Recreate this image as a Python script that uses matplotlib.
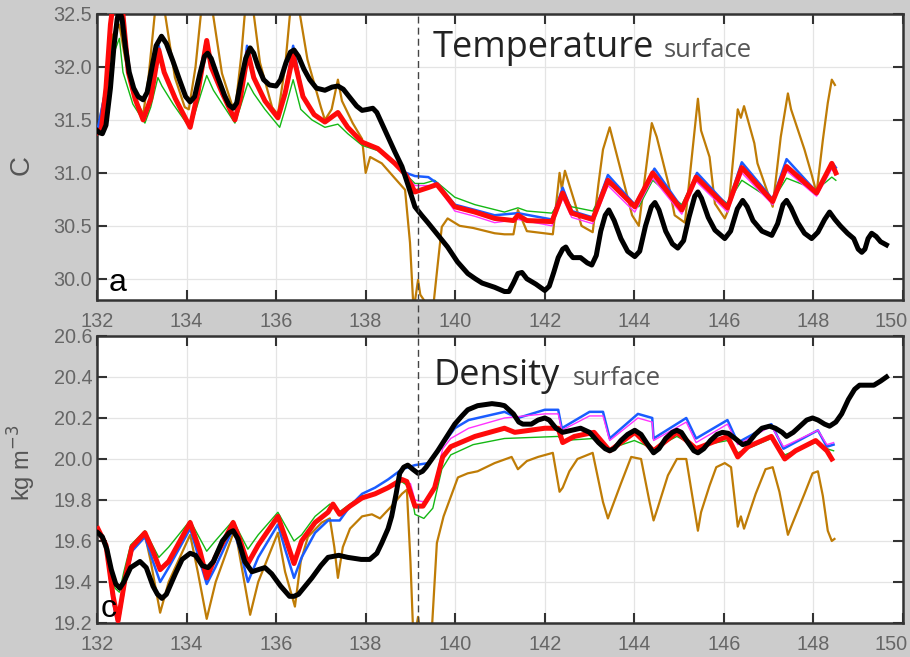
import numpy as np
import matplotlib.pyplot as plt
import matplotlib.transforms as mtransforms

# ---- temperature (top panel) ----
t_black_x = [132.0, 132.05, 132.12, 132.2, 132.3, 132.38, 132.45, 132.5, 132.56, 132.63, 132.72, 132.82, 132.92, 133.03,
             133.12, 133.22, 133.32, 133.44, 133.55, 133.7, 133.85, 133.98, 134.08, 134.18, 134.3, 134.4, 134.47, 134.55,
             134.7, 134.85, 134.95, 135.04, 135.12, 135.22, 135.32, 135.42, 135.5, 135.6, 135.72, 135.85, 136.0, 136.1,
             136.22, 136.32, 136.4, 136.5, 136.62, 136.75, 136.9, 137.09, 137.25, 137.38, 137.5, 137.65, 137.8, 137.92,
             138.05, 138.16, 138.25, 138.38, 138.5, 138.65, 138.81, 138.95, 139.1, 139.25, 139.39, 139.6, 139.83, 140.05,
             140.28, 140.45, 140.6, 140.88, 141.1, 141.2, 141.3, 141.4, 141.49, 141.6, 141.8, 142.0, 142.1, 142.2,
             142.3, 142.4, 142.47, 142.55, 142.63, 142.8, 142.95, 143.05, 143.15, 143.25, 143.35, 143.43, 143.55, 143.7,
             143.85, 144.01, 144.12, 144.25, 144.38, 144.46, 144.55, 144.7, 144.85, 144.97, 145.1, 145.22, 145.35, 145.42,
             145.5, 145.65, 145.8, 146.02, 146.15, 146.3, 146.42, 146.52, 146.65, 146.85, 147.07, 147.2, 147.32, 147.4,
             147.5, 147.65, 147.8, 147.96, 148.1, 148.25, 148.36, 148.48, 148.6, 148.76, 148.9, 149.0, 149.08, 149.15,
             149.22, 149.3, 149.4, 149.5, 149.63]
t_black_y = [31.40, 31.38, 31.37, 31.45, 31.8, 32.2, 32.45, 32.55, 32.45, 32.2, 31.95, 31.8, 31.72, 31.69,
             31.76, 31.98, 32.2, 32.29, 32.22, 32.05, 31.87, 31.72, 31.67, 31.72, 31.94, 32.1, 32.13, 32.08,
             31.9, 31.73, 31.64, 31.61, 31.66, 31.88, 32.08, 32.18, 32.13, 32.0, 31.88, 31.83, 31.82, 31.88,
             32.04, 32.14, 32.16, 32.1, 31.98, 31.88, 31.8, 31.78, 31.81, 31.82, 31.79, 31.71, 31.63, 31.59,
             31.6, 31.61, 31.57, 31.45, 31.34, 31.2, 31.06, 30.88, 30.68, 30.6, 30.53, 30.42, 30.30, 30.16,
             30.05, 30.0, 29.96, 29.92, 29.88, 29.88, 29.96, 30.05, 30.06, 30.0, 29.95, 29.89, 29.93, 30.06,
             30.2, 30.28, 30.30, 30.24, 30.2, 30.2, 30.15, 30.13, 30.22, 30.45, 30.6, 30.65, 30.55, 30.38,
             30.26, 30.21, 30.26, 30.5, 30.68, 30.72, 30.65, 30.45, 30.33, 30.29, 30.36, 30.58, 30.78, 30.82,
             30.76, 30.58, 30.46, 30.38, 30.45, 30.66, 30.74, 30.68, 30.55, 30.45, 30.41, 30.52, 30.7, 30.74,
             30.67, 30.53, 30.43, 30.38, 30.44, 30.56, 30.63, 30.56, 30.5, 30.43, 30.38, 30.28, 30.25, 30.28,
             30.38, 30.43, 30.4, 30.35, 30.32]

t_red_x = [132.0, 132.1, 132.2, 132.3, 132.42, 132.52, 132.6, 132.7, 132.85, 133.03, 133.2, 133.38, 133.5, 133.75,
           134.08, 134.25, 134.45, 134.55, 134.8, 135.08, 135.2, 135.37, 135.5, 135.75, 136.04, 136.2, 136.38, 136.6,
           136.85, 137.09, 137.38, 137.6, 137.92, 138.27, 138.65, 138.9, 139.1, 139.39, 139.59, 139.99, 140.44, 140.88,
           141.3, 141.4, 141.6, 142.16, 142.4, 142.6, 143.07, 143.41, 144.01, 144.41, 145.06, 145.38, 146.08, 146.4,
           147.09, 147.4, 148.07, 148.41, 148.5]
t_red_y = [31.38, 31.42, 31.8, 32.4, 32.8, 32.75, 32.4, 31.95, 31.7, 31.5, 31.7, 32.16, 31.95, 31.7,
           31.43, 31.75, 32.25, 32.0, 31.75, 31.50, 31.7, 32.14, 31.9, 31.68, 31.52, 31.75, 32.11, 31.72,
           31.55, 31.48, 31.57, 31.43, 31.29, 31.23, 31.09, 30.98, 30.82, 30.86, 30.89, 30.68, 30.63, 30.57,
           30.55, 30.6, 30.55, 30.54, 30.81, 30.62, 30.56, 30.93, 30.68, 31.0, 30.65, 30.96, 30.67, 31.05,
           30.73, 31.06, 30.81, 31.09, 31.0]

t_blue_x = [132.0, 132.2, 132.3, 132.42, 132.52, 132.6, 132.7, 132.85, 133.03, 133.2, 133.38, 133.5, 133.75, 134.08,
            134.25, 134.42, 134.55, 134.8, 135.08, 135.2, 135.35, 135.5, 135.75, 136.04, 136.2, 136.38, 136.6, 136.85,
            137.09, 137.38, 137.6, 137.92, 138.27, 138.65, 138.9, 139.1, 139.4, 139.6, 139.99, 140.44, 140.88, 141.4,
            142.16, 142.4, 142.6, 143.07, 143.41, 144.01, 144.45, 145.06, 145.4, 146.08, 146.4, 147.09, 147.4, 148.07,
            148.45, 148.5]
t_blue_y = [31.38, 31.8, 32.4, 32.8, 32.75, 32.4, 31.95, 31.7, 31.5, 31.7, 32.2, 31.95, 31.7, 31.43,
            31.75, 32.22, 32.0, 31.75, 31.50, 31.7, 32.2, 31.9, 31.68, 31.52, 31.75, 32.2, 31.72, 31.55,
            31.48, 31.57, 31.43, 31.29, 31.23, 31.09, 31.0, 30.97, 30.96, 30.9, 30.7, 30.65, 30.6, 30.62,
            30.56, 30.86, 30.64, 30.58, 30.98, 30.7, 31.04, 30.67, 31.0, 30.69, 31.1, 30.75, 31.13, 30.82,
            31.08, 31.05]

t_mag_x = [137.92, 138.27, 138.65, 138.9, 139.1, 139.4, 139.6, 139.99, 140.44, 140.88, 141.4, 142.16, 142.4, 142.6,
           143.07, 143.41, 144.01, 144.41, 145.06, 145.38, 146.08, 146.4, 147.09, 147.4, 148.07, 148.41, 148.5]
t_mag_y = [31.29, 31.23, 31.09, 30.98, 30.88, 30.88, 30.87, 30.64, 30.59, 30.53, 30.56, 30.5, 30.76, 30.58,
           30.52, 30.88, 30.63, 30.95, 30.61, 30.92, 30.63, 31.0, 30.7, 31.02, 30.78, 31.04, 30.98]

t_green_x = [132.0, 132.2, 132.35, 132.5, 132.58, 132.8, 133.07, 133.2, 133.36, 133.45, 133.7, 134.08, 134.25, 134.45,
             134.6, 134.8, 135.08, 135.2, 135.37, 135.5, 135.75, 136.08, 136.2, 136.38, 136.55, 136.8, 137.09, 137.38,
             137.6, 137.92, 138.27, 138.65, 139.1, 139.3, 139.54, 139.99, 140.44, 141.1, 141.4, 141.6, 142.16, 142.4,
             142.6, 143.07, 143.41, 144.1, 144.41, 145.06, 145.35, 146.08, 146.4, 147.09, 147.4, 148.07, 148.41, 148.5]
t_green_y = [31.38, 31.75, 32.1, 32.27, 31.95, 31.65, 31.47, 31.62, 31.9, 31.82, 31.65, 31.42, 31.65, 31.92,
             31.78, 31.65, 31.47, 31.62, 31.85, 31.75, 31.6, 31.43, 31.6, 31.88, 31.6, 31.5, 31.43, 31.46,
             31.37, 31.26, 31.21, 31.09, 30.9, 30.9, 30.93, 30.77, 30.7, 30.63, 30.67, 30.64, 30.62, 30.78,
             30.68, 30.64, 30.9, 30.68, 30.93, 30.7, 30.95, 30.71, 30.93, 30.74, 30.95, 30.84, 30.96, 30.93]

t_brown_x = [132.0, 132.2, 132.35, 132.5, 132.62, 132.8, 133.03, 133.15, 133.29, 133.35, 133.48, 133.52, 133.74, 133.96,
             134.05, 134.2, 134.32, 134.4, 134.55, 134.59, 134.79, 135.03, 135.1, 135.22, 135.3, 135.35, 135.47, 135.5,
             135.64, 135.91, 136.04, 136.2, 136.31, 136.38, 136.5, 136.53, 136.7, 137.0, 137.09, 137.24, 137.38, 137.47,
             137.71, 137.92, 138.0, 138.1, 138.36, 138.65, 138.88, 138.99, 139.07, 139.17, 139.22, 139.3, 139.5, 139.6,
             139.7, 139.83, 140.1, 140.4, 140.88, 141.1, 141.3, 141.4, 141.6, 142.18, 142.33, 142.38, 142.45, 142.67,
             142.82, 143.07, 143.2, 143.3, 143.45, 143.7, 143.95, 144.1, 144.39, 144.5, 144.76, 144.9, 145.13, 145.42,
             145.49, 145.68, 145.8, 146.02, 146.1, 146.31, 146.38, 146.45, 146.68, 146.75, 147.09, 147.27, 147.43, 147.5,
             147.8, 147.95, 148.07, 148.21, 148.32, 148.41, 148.48]
t_brown_y = [31.38, 31.8, 32.3, 32.4, 32.1, 31.75, 31.55, 31.9, 32.5, 32.9, 32.9, 32.5, 31.9, 31.62,
             31.6, 32.0, 32.5, 32.9, 32.9, 32.5, 31.94, 31.62, 31.65, 32.1, 32.5, 32.9, 32.9, 32.5,
             32.04, 31.62, 31.55, 32.0, 32.5, 32.9, 32.9, 32.5, 32.07, 31.62, 31.5, 31.6, 31.88, 31.68,
             31.47, 31.32, 31.0, 31.15, 31.09, 30.95, 30.84, 30.34, 29.7, 29.99, 29.85, 29.8, 29.7, 30.1,
             30.49, 30.57, 30.5, 30.48, 30.43, 30.42, 30.42, 30.65, 30.45, 30.42, 31.0, 30.85, 31.02, 30.72,
             30.5, 30.44, 30.9, 31.22, 31.43, 31.02, 30.6, 30.5, 31.47, 31.34, 30.9, 30.6, 30.53, 31.7,
             31.4, 31.15, 30.71, 30.57, 30.65, 31.6, 31.52, 31.63, 31.28, 31.09, 30.68, 31.34, 31.75, 31.6,
             31.22, 31.0, 30.81, 31.31, 31.66, 31.88, 31.83]

# ---- density (bottom panel) ----
d_black_x = [132.02, 132.12, 132.22, 132.32, 132.42, 132.51, 132.6, 132.75, 132.96, 133.1, 133.25, 133.35, 133.45, 133.55,
             133.75, 133.9, 134.08, 134.2, 134.35, 134.48, 134.6, 134.8, 134.95, 135.04, 135.15, 135.3, 135.46, 135.6,
             135.75, 135.9, 136.1, 136.3, 136.4, 136.5, 136.8, 137.0, 137.16, 137.4, 137.6, 137.9, 138.09, 138.25,
             138.36, 138.5, 138.58, 138.68, 138.76, 138.85, 138.94, 139.05, 139.17, 139.27, 139.35, 139.61, 139.99, 140.15,
             140.28, 140.5, 140.82, 141.0, 141.1, 141.3, 141.42, 141.51, 141.7, 141.85, 142.0, 142.1, 142.25, 142.4,
             142.6, 142.8, 143.0, 143.2, 143.35, 143.45, 143.55, 143.7, 143.85, 144.01, 144.15, 144.3, 144.43, 144.55,
             144.7, 144.85, 144.95, 145.05, 145.2, 145.33, 145.42, 145.55, 145.7, 145.85, 145.97, 146.1, 146.25, 146.42,
             146.55, 146.7, 146.85, 147.02, 147.15, 147.3, 147.4, 147.55, 147.7, 147.85, 147.98, 148.1, 148.25, 148.36,
             148.5, 148.63, 148.78, 148.92, 149.03, 149.14, 149.35, 149.5, 149.63]
d_black_y = [19.64, 19.62, 19.56, 19.46, 19.39, 19.37, 19.4, 19.47, 19.50, 19.47, 19.38, 19.34, 19.32, 19.34,
             19.44, 19.51, 19.54, 19.53, 19.48, 19.47, 19.5, 19.6, 19.64, 19.65, 19.61, 19.5, 19.45, 19.46,
             19.47, 19.44, 19.38, 19.33, 19.33, 19.34, 19.42, 19.48, 19.52, 19.53, 19.52, 19.51, 19.51, 19.54,
             19.59, 19.66, 19.72, 19.83, 19.93, 19.96, 19.97, 19.95, 19.93, 19.94, 19.96, 20.04, 20.17, 20.21,
             20.24, 20.26, 20.27, 20.265, 20.26, 20.22, 20.18, 20.17, 20.17, 20.19, 20.2, 20.19, 20.15, 20.13,
             20.14, 20.15, 20.13, 20.08, 20.05, 20.04, 20.05, 20.09, 20.12, 20.14, 20.12, 20.07, 20.03, 20.05,
             20.1, 20.13, 20.14, 20.13, 20.08, 20.04, 20.03, 20.05, 20.09, 20.12, 20.13, 20.125, 20.1, 20.07,
             20.08, 20.12, 20.15, 20.16, 20.15, 20.13, 20.11, 20.13, 20.16, 20.19, 20.2, 20.19, 20.17, 20.16,
             20.18, 20.22, 20.29, 20.34, 20.36, 20.36, 20.36, 20.38, 20.4]

d_red_x = [132.02, 132.2, 132.36, 132.47, 132.63, 132.78, 133.07, 133.25, 133.41, 133.6, 134.08, 134.3, 134.45, 134.64,
           135.04, 135.2, 135.37, 135.6, 136.04, 136.2, 136.4, 136.57, 136.87, 137.16, 137.27, 137.42, 137.65, 137.92,
           138.21, 138.5, 138.81, 138.92, 139.1, 139.28, 139.54, 139.72, 139.9, 140.44, 141.1, 141.33, 142.0, 142.3,
           142.4, 142.66, 143.1, 143.45, 144.01, 144.43, 144.95, 145.38, 146.08, 146.31, 146.54, 147.06, 147.36, 147.6,
           148.05, 148.3, 148.41]
d_red_y = [19.66, 19.58, 19.33, 19.21, 19.42, 19.57, 19.64, 19.55, 19.46, 19.5, 19.69, 19.55, 19.42, 19.52,
           19.69, 19.6, 19.49, 19.58, 19.72, 19.62, 19.49, 19.6, 19.69, 19.74, 19.78, 19.73, 19.77, 19.81,
           19.83, 19.86, 19.9, 19.89, 19.77, 19.77, 19.86, 20.01, 20.06, 20.11, 20.15, 20.13, 20.15, 20.15,
           20.08, 20.11, 20.13, 20.04, 20.13, 20.04, 20.13, 20.05, 20.11, 20.01, 20.06, 20.11, 20.0, 20.04,
           20.09, 20.04, 20.0]

d_blue_x = [132.02, 132.2, 132.36, 132.47, 132.63, 132.78, 133.07, 133.25, 133.41, 133.6, 134.08, 134.3, 134.45, 134.64,
            135.04, 135.2, 135.37, 135.6, 136.04, 136.2, 136.4, 136.57, 136.87, 137.16, 137.3, 137.42, 137.65, 137.92,
            138.21, 138.5, 138.81, 139.1, 139.4, 139.61, 139.99, 140.3, 141.1, 141.4, 142.0, 142.3, 142.38, 143.0,
            143.3, 143.45, 144.08, 144.4, 144.43, 145.16, 145.38, 146.08, 146.31, 147.06, 147.33, 148.1, 148.3, 148.45]
d_blue_y = [19.66, 19.57, 19.3, 19.19, 19.4, 19.55, 19.62, 19.5, 19.4, 19.47, 19.66, 19.5, 19.39, 19.47,
            19.66, 19.55, 19.4, 19.52, 19.68, 19.56, 19.42, 19.52, 19.64, 19.7, 19.7, 19.7, 19.77, 19.83,
            19.86, 19.9, 19.95, 19.97, 19.98, 20.04, 20.15, 20.19, 20.23, 20.2, 20.24, 20.24, 20.15, 20.23,
            20.23, 20.1, 20.22, 20.2, 20.1, 20.2, 20.1, 20.19, 20.08, 20.17, 20.05, 20.14, 20.06, 20.07]

d_mag_x = [139.0, 139.1, 139.3, 139.5, 139.6, 139.72, 139.9, 140.3, 141.1, 142.0, 142.3, 142.38, 143.0, 143.3,
           143.45, 144.08, 144.4, 144.43, 145.16, 145.38, 146.08, 146.31, 147.06, 147.33, 148.1, 148.3, 148.45]
d_mag_y = [19.88, 19.8, 19.79, 19.85, 19.93, 20.05, 20.1, 20.15, 20.2, 20.22, 20.22, 20.14, 20.21, 20.21,
           20.09, 20.2, 20.18, 20.09, 20.18, 20.08, 20.17, 20.07, 20.16, 20.06, 20.14, 20.07, 20.08]

d_green_x = [132.0, 132.2, 132.4, 132.5, 132.6, 132.75, 133.07, 133.38, 133.6, 134.08, 134.45, 134.64, 135.04, 135.37,
             135.6, 136.04, 136.4, 136.57, 136.87, 137.2, 137.4, 137.65, 137.92, 138.2, 138.5, 138.8, 139.0, 139.1,
             139.3, 139.5, 139.7, 139.9, 140.4, 141.1, 142.3, 142.4, 143.1, 143.45, 144.0, 144.43, 144.95, 145.38,
             146.08, 146.31, 147.06, 147.36, 148.05, 148.3, 148.45]
d_green_y = [19.66, 19.58, 19.37, 19.35, 19.45, 19.58, 19.65, 19.52, 19.57, 19.7, 19.55, 19.6, 19.7, 19.56,
             19.63, 19.74, 19.6, 19.63, 19.72, 19.78, 19.74, 19.78, 19.82, 19.83, 19.86, 19.89, 19.86, 19.73,
             19.71, 19.76, 19.95, 20.02, 20.07, 20.1, 20.11, 20.09, 20.1, 20.05, 20.09, 20.05, 20.11, 20.06,
             20.09, 20.03, 20.1, 20.02, 20.08, 20.05, 20.04]

d_brown_x = [132.02, 132.2, 132.36, 132.47, 132.63, 132.78, 133.07, 133.2, 133.41, 133.6, 134.08, 134.25, 134.45, 134.65,
             135.08, 135.25, 135.42, 135.6, 136.04, 136.2, 136.42, 136.55, 136.71, 137.02, 137.2, 137.3, 137.38, 137.49,
             137.65, 137.92, 138.14, 138.32, 138.58, 138.81, 138.92, 139.0, 139.07, 139.17, 139.26, 139.46, 139.59, 139.74,
             140.06, 140.28, 140.5, 140.88, 141.26, 141.4, 141.6, 141.85, 142.18, 142.33, 142.4, 142.55, 142.73, 143.07,
             143.3, 143.41, 143.7, 143.93, 144.15, 144.34, 144.43, 144.52, 144.75, 144.95, 145.16, 145.42, 145.49, 145.68,
             145.83, 146.02, 146.16, 146.31, 146.38, 146.45, 146.71, 146.93, 147.09, 147.24, 147.43, 147.54, 147.8, 147.98,
             148.1, 148.21, 148.32, 148.41, 148.47]
d_brown_y = [19.66, 19.57, 19.3, 19.2, 19.4, 19.56, 19.63, 19.5, 19.25, 19.4, 19.63, 19.45, 19.22, 19.4,
             19.66, 19.45, 19.24, 19.4, 19.64, 19.45, 19.28, 19.5, 19.62, 19.69, 19.71, 19.57, 19.42, 19.57,
             19.66, 19.72, 19.73, 19.71, 19.77, 19.83, 19.85, 19.5, 19.1, 19.23, 19.1, 19.1, 19.59, 19.72,
             19.91, 19.93, 19.94, 19.98, 20.01, 19.95, 19.99, 20.01, 20.03, 19.84, 19.86, 19.94, 20.0, 20.03,
             19.79, 19.71, 19.88, 20.01, 20.0, 19.79, 19.7, 19.76, 19.92, 20.0, 20.0, 19.65, 19.74, 19.87,
             19.96, 19.98, 19.96, 19.67, 19.72, 19.66, 19.83, 19.95, 19.96, 19.84, 19.63, 19.69, 19.83, 19.93,
             19.94, 19.82, 19.65, 19.6, 19.61]

x_ticks = [132, 134, 136, 138, 140, 142, 144, 146, 148, 150]
t_ticks = [30.0, 30.5, 31.0, 31.5, 32.0, 32.5]
d_ticks = [19.2, 19.4, 19.6, 19.8, 20.0, 20.2, 20.4, 20.6]
event_day = 139.17

c_brown = '#bf7c06'
c_green = '#14b814'
c_blue = '#1a5cff'
c_mag = '#ff33ff'
c_red = '#ff0a0a'

fig = plt.figure(figsize=(9.1, 6.57), dpi=100, facecolor='#cccccc')
ax1 = fig.add_axes([0.1066, 0.5434, 0.8857, 0.4353])
ax2 = fig.add_axes([0.1066, 0.0518, 0.8857, 0.4368])


def draw(ax, br, gr, bl, mg, rd, bk):
    ax.plot(*br, color=c_brown, lw=1.6, zorder=2)
    ax.plot(*gr, color=c_green, lw=1.0, zorder=3)
    ax.plot(*bl, color=c_blue, lw=1.8, zorder=4)
    ax.plot(*mg, color=c_mag, lw=1.0, zorder=5)
    ax.plot(*rd, color=c_red, lw=3.6, zorder=6, solid_joinstyle='round')
    ax.plot(*bk, color='black', lw=3.6, zorder=7, solid_joinstyle='round')


draw(ax1, (t_brown_x, t_brown_y), (t_green_x, t_green_y), (t_blue_x, t_blue_y),
     (t_mag_x, t_mag_y), (t_red_x, t_red_y), (t_black_x, t_black_y))
draw(ax2, (d_brown_x, d_brown_y), (d_green_x, d_green_y), (d_blue_x, d_blue_y),
     (d_mag_x, d_mag_y), (d_red_x, d_red_y), (d_black_x, d_black_y))

ax1.set_ylim(29.8, 32.5)
ax1.set_yticks(t_ticks)
ax1.set_yticklabels(['%.1f' % v for v in t_ticks])
ax2.set_ylim(19.2, 20.6)
ax2.set_yticks(d_ticks)
ax2.set_yticklabels(['%.1f' % v for v in d_ticks])

# last x label sits flush with the right edge of the figure
shift_last = mtransforms.ScaledTranslation(5 / 100, 0, fig.dpi_scale_trans)

for ax in (ax1, ax2):
    ax.set_facecolor('white')
    ax.set_xlim(132, 150)
    ax.set_xticks(x_ticks)
    ax.grid(True, color='#e4e4e4', lw=0.9, zorder=0)
    ax.set_axisbelow(True)
    ax.tick_params(direction='in', length=7, width=1.5, color='#333333', top=True, right=True,
                   labelsize=14.3, labelcolor='#666666')
    ax.tick_params(axis='x', pad=8.5)
    ax.tick_params(axis='y', pad=3.5)
    for lab in ax.get_xticklabels() + ax.get_yticklabels():
        lab.set_family('Liberation Sans')
    last = ax.get_xticklabels()[-1]
    last.set_horizontalalignment('right')
    last.set_transform(last.get_transform() + shift_last)
    for s in ax.spines.values():
        s.set_color('#333333')
        s.set_linewidth(1.8)

# dashed marker through both panels
trans = mtransforms.blended_transform_factory(ax1.transData, fig.transFigure)
fig.add_artist(plt.Line2D([event_day, event_day], [0.0518, 0.9787], transform=trans,
                          color='#444444', lw=1.0, ls=(0, (5, 3)), zorder=10))

ax1.text(0.417, 0.85, 'Temperature', transform=ax1.transAxes, fontsize=26, color='#222222',
         family='Open Sans', va='baseline', zorder=20)
ax1.text(0.703, 0.85, 'surface', transform=ax1.transAxes, fontsize=18.5, color='#555555',
         family='Open Sans', va='baseline', zorder=20)
ax2.text(0.417, 0.83, 'Density', transform=ax2.transAxes, fontsize=26, color='#222222',
         family='Open Sans', va='baseline', zorder=20)
ax2.text(0.59, 0.83, 'surface', transform=ax2.transAxes, fontsize=18.5, color='#555555',
         family='Open Sans', va='baseline', zorder=20)

ax1.text(0.015, 0.03, 'a', transform=ax1.transAxes, fontsize=23, family='Liberation Sans', zorder=20)
ax2.text(0.005, 0.02, 'c', transform=ax2.transAxes, fontsize=23, family='Liberation Sans', zorder=20)

fig.text(22 / 910, 1 - 165 / 657, 'C', rotation=90, fontsize=20, color='#555555',
         family='Liberation Sans', ha='center', va='center')
fig.text(22 / 910, 1 - 463 / 657, 'kg m$^{-3}$', rotation=90, fontsize=17, color='#555555',
         family='Liberation Sans', ha='center', va='center')

fig.savefig('out.png', dpi=100, facecolor=fig.get_facecolor())
